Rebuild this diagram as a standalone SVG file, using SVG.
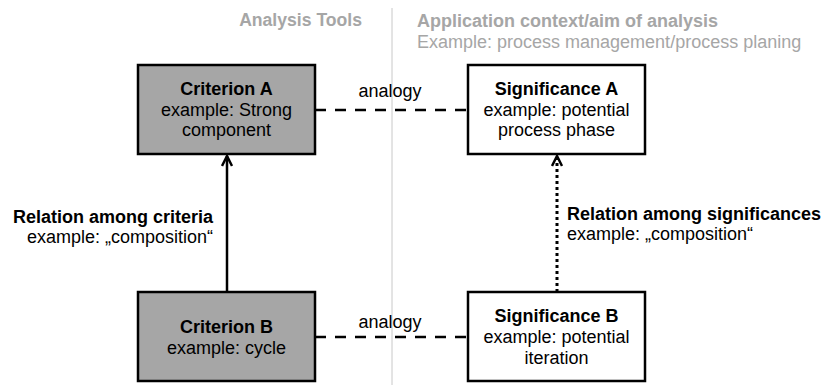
<svg xmlns="http://www.w3.org/2000/svg" width="823" height="385" viewBox="0 0 823 385">
<style>
text{font-family:"Liberation Sans",Arial,sans-serif;font-size:18px;fill:#000}
.b{font-weight:bold}
.hdr{fill:#a6a6a6}
.c{text-anchor:middle}
.crit{fill:#a6a6a6;stroke:#000;stroke-width:2.5}
.sig{fill:#fff;stroke:#000;stroke-width:2.5}
.dash{stroke:#000;stroke-width:2.5;stroke-dasharray:11 9;fill:none}
</style>
<defs>
<marker id="arr" viewBox="0 0 12 12" refX="11" refY="6" markerWidth="12" markerHeight="12" markerUnits="userSpaceOnUse" orient="auto">
<path d="M1,1 L11,6 L1,11" fill="none" stroke="#000" stroke-width="2.5"/>
</marker>
</defs>
<line x1="392" y1="8" x2="392" y2="385" stroke="#c8c8c8" stroke-width="1"/>
<text class="b hdr" x="362" y="26" text-anchor="end" style="font-size:17.6px">Analysis Tools</text>
<text class="b hdr" x="417" y="27">Application context/aim of analysis</text>
<text class="hdr" x="417" y="48">Example: process management/process planing</text>
<g id="connectors">
<line class="dash" x1="315" y1="110" x2="468" y2="110"/>
<line class="dash" x1="315" y1="337" x2="468" y2="337"/>
<line x1="227" y1="292" x2="227" y2="156" stroke="#000" stroke-width="2.5" marker-end="url(#arr)"/>
<line x1="557" y1="292" x2="557" y2="156" stroke="#000" stroke-width="3" stroke-dasharray="3 3" marker-end="url(#arr)"/>
<text class="c" x="390" y="97">analogy</text>
<text class="c" x="390" y="328">analogy</text>
<text class="b" x="213" y="223" text-anchor="end">Relation among criteria</text>
<text x="213" y="243" text-anchor="end">example: „composition“</text>
<text class="b" x="567" y="220">Relation among significances</text>
<text x="567" y="240">example: „composition“</text>
</g>
<g id="criterionA">
<rect class="crit" x="138" y="65" width="177" height="89"/>
<text class="b c" x="226.5" y="95">Criterion A</text>
<text class="c" x="226.5" y="115.5">example: Strong</text>
<text class="c" x="226.5" y="136">component</text>
</g>
<g id="significanceA">
<rect class="sig" x="468" y="65" width="177" height="89"/>
<text class="b c" x="556.5" y="95">Significance A</text>
<text class="c" x="556.5" y="115.5">example: potential</text>
<text class="c" x="556.5" y="136">process phase</text>
</g>
<g id="criterionB">
<rect class="crit" x="138" y="292" width="177" height="89"/>
<text class="b c" x="226.5" y="333">Criterion B</text>
<text class="c" x="226.5" y="354">example: cycle</text>
</g>
<g id="significanceB">
<rect class="sig" x="468" y="292" width="177" height="89"/>
<text class="b c" x="556.5" y="322">Significance B</text>
<text class="c" x="556.5" y="343">example: potential</text>
<text class="c" x="556.5" y="364">iteration</text>
</g>
</svg>
